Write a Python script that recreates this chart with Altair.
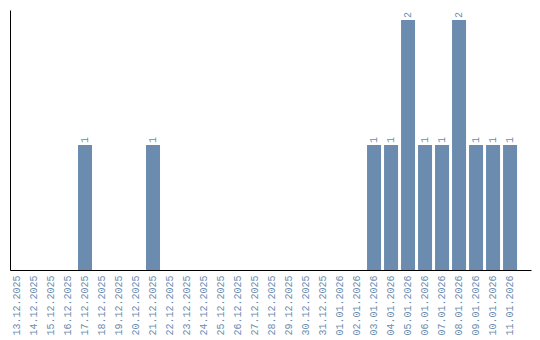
import altair as alt
import pandas as pd

dates = ["13.12.2025", "14.12.2025", "15.12.2025", "16.12.2025", "17.12.2025",
         "18.12.2025", "19.12.2025", "20.12.2025", "21.12.2025", "22.12.2025",
         "23.12.2025", "24.12.2025", "25.12.2025", "26.12.2025", "27.12.2025",
         "28.12.2025", "29.12.2025", "30.12.2025", "31.12.2025", "01.01.2026",
         "02.01.2026", "03.01.2026", "04.01.2026", "05.01.2026", "06.01.2026",
         "07.01.2026", "08.01.2026", "09.01.2026", "10.01.2026", "11.01.2026"]
counts = [0, 0, 0, 0, 1, 0, 0, 0, 1, 0,
          0, 0, 0, 0, 0, 0, 0, 0, 0, 0,
          0, 1, 1, 2, 1, 1, 2, 1, 1, 1]

df = pd.DataFrame({"date": dates, "count": counts})
color = "#6b8cae"
font = "Liberation Mono"

xscale = alt.Scale(paddingInner=0.176, paddingOuter=0.41, align=0)
x = alt.X("date:N", sort=dates, scale=xscale,
          axis=alt.Axis(title=None, labelAngle=270, ticks=False, labelPadding=5,
                        labelColor=color, labelFont=font, labelFontSize=10,
                        domainColor="black", labelAlign="right", labelBaseline="middle"))
y = alt.Y("count:Q", scale=alt.Scale(domain=[0, 2.08], nice=False),
          axis=alt.Axis(title=None, labels=False, ticks=False, grid=False,
                        domainColor="black"))

bars = alt.Chart(df).mark_bar(color=color).encode(x=x, y=y)
texts = alt.Chart(df).transform_filter("datum.count > 0").mark_text(
    angle=270, align="left", baseline="middle", dx=2, color=color,
    font=font, fontSize=10).encode(x=x, y=y, text="count:Q")

chart = (bars + texts).properties(
    width=521, height=260,
    padding={"left": 10, "top": 10, "right": 9, "bottom": 70},
    autosize=alt.AutoSizeParams(type="none"),
).configure(background="white", view=alt.ViewConfig(stroke=None))

chart.save("out.html", embed_options={"renderer": "svg", "actions": False})
